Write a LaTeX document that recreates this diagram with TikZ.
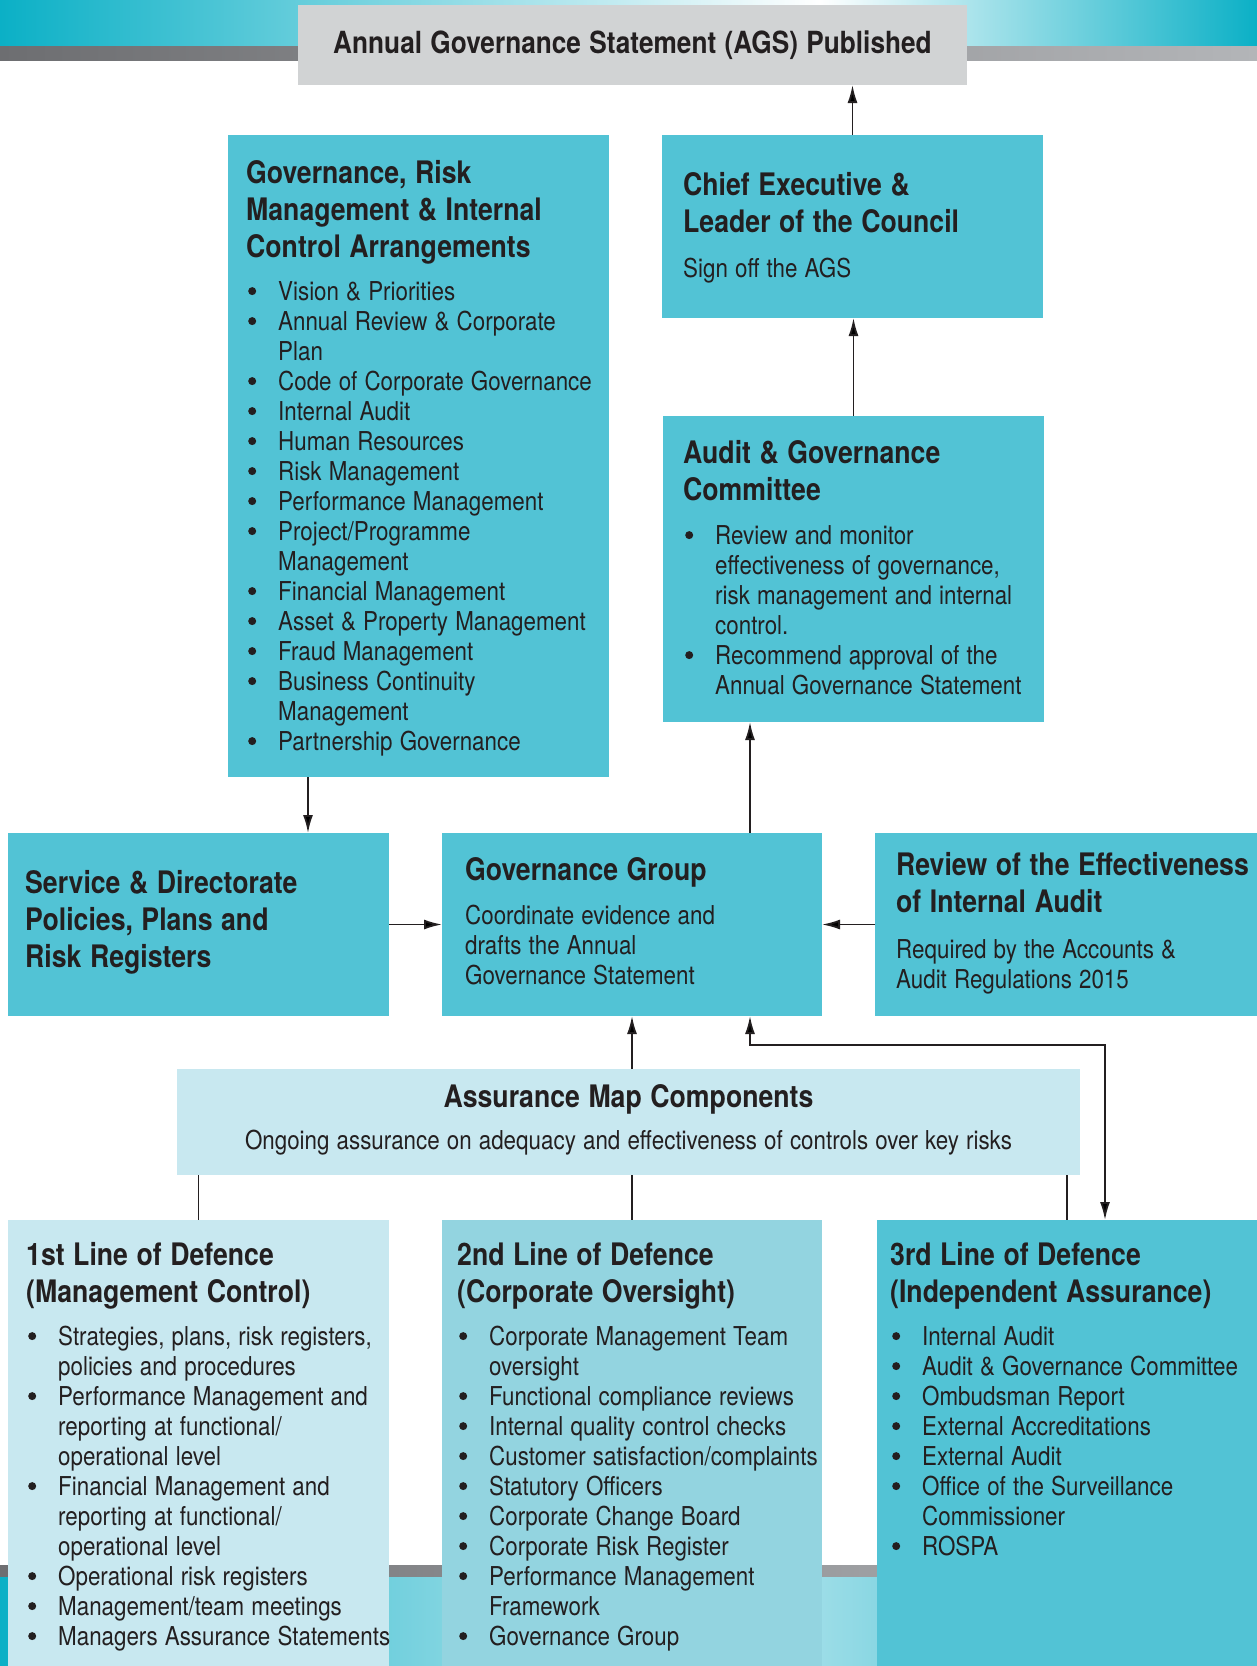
\documentclass[tikz,border=0pt]{standalone}
\usepackage{fontspec}
\setmainfont{TeX Gyre Heros}[FakeStretch=0.86, WordSpace=1.15]
\usetikzlibrary{arrows.meta, positioning}
\setlength{\parindent}{0pt}
\definecolor{boxteal}{HTML}{52C3D5}
\definecolor{palecyan}{HTML}{C8E8F0}
\definecolor{midcyan}{HTML}{93D4E0}
\definecolor{agsgrey}{HTML}{D1D3D4}
\definecolor{ink}{HTML}{231F20}
\definecolor{bandteal}{HTML}{0BB0C6}
\definecolor{bandlight}{HTML}{C4E9F0}
\definecolor{bandgreydk}{HTML}{6D6E71}
\definecolor{bandgreylt}{HTML}{B3B5B8}
\newcommand{\hfnt}{\fontsize{31}{37}\selectfont\bfseries\spaceskip=0pt\xspaceskip=0pt}
\newcommand{\bfnt}{\fontsize{26}{30}\selectfont\spaceskip=0pt\xspaceskip=0pt}
\newcommand{\dotmark}{\tikz[baseline={(0pt,-9pt)}]\fill[ink] (0pt,0pt) circle[radius=4pt];}
\newcommand{\itm}{\par\hangindent=32pt\hangafter=1\makebox[32pt][l]{\hspace{2pt}\dotmark}}
\tikzset{
	panel/.style={
		anchor=north west,
		inner sep=0pt,
		outer sep=0pt,
		fill=boxteal
	},
	blurb/.style={
		anchor=north west,
		inner sep=0pt,
		text width=480pt,
		text=ink
	},
	link/.style={
		draw=ink,
		line width=1.8pt,
		-{Latex[length=18pt,width=10pt]}
	},
	twoway/.style={
		link,
		{Latex[length=18pt,width=10pt]}-{Latex[length=18pt,width=10pt]}
	},
	tie/.style={
		draw=ink,
		line width=1.8pt
	}
}
\begin{document}
\begin{tikzpicture}[x=1pt, y=-1pt]
\useasboundingbox (0,0) rectangle (1257,1666);

% bands
\shade[left color=bandteal, right color=white] (0,0) rectangle (820,46);
\shade[left color=white, right color=bandteal] (820,0) rectangle (1257,46);
\shade[left color=bandgreydk, right color=bandgreylt] (0,46) rectangle (1257,60);
\shade[left color=bandgreydk, right color=bandgreylt] (0,1565) rectangle (1257,1577);
\shade[left color=bandteal, right color=bandlight] (0,1577) rectangle (700,1666);
\shade[left color=bandlight, right color=bandteal] (700,1577) rectangle (1257,1666);

\node(ags)[panel, anchor=center, fill=agsgrey, minimum width=669pt, minimum height=80pt, text=ink, font=\fontsize{30.5}{36}\selectfont\bfseries] at (632.5,45) {\raisebox{-3pt}{Annual Governance Statement (AGS) Published}};

\node(grc)[panel, minimum width=381pt, minimum height=642pt] at (228,135) {};
\node(chief)[panel, minimum width=381pt, minimum height=183pt] at (662,135) {};
\node(agc)[panel, minimum width=381pt, minimum height=306pt] at (663,416) {};
\node(svc)[panel, minimum width=381pt, minimum height=183pt] at (8,833) {};
\node(gg)[panel, minimum width=380pt, minimum height=183pt] at (442,833) {};
\node(rev)[panel, minimum width=382pt, minimum height=183pt] at (875,833) {};
\node(asm)[panel, fill=palecyan, minimum width=903pt, minimum height=106pt] at (177,1069) {};
\node(l1)[panel, fill=palecyan, minimum width=381pt, minimum height=446pt] at (8,1220) {};
\node(l2)[panel, fill=midcyan, minimum width=380pt, minimum height=446pt] at (442,1220) {};
\node(l3)[panel, minimum width=380pt, minimum height=446pt] at (877,1220) {};

\node(grc-t)[blurb] at (246,157) {{\hfnt\strut Governance, Risk\newline Management \& Internal\newline Control Arrangements\par}
	\vspace{13pt}\bfnt
	\itm Vision \& Priorities
	\itm Annual Review \& Corporate\newline Plan
	\itm Code of Corporate Governance
	\itm Internal Audit
	\itm Human Resources
	\itm Risk Management
	\itm Performance Management
	\itm Project/Programme\newline Management
	\itm Financial Management
	\itm Asset \& Property Management
	\itm Fraud Management
	\itm Business Continuity\newline Management
	\itm Partnership Governance\par};

\node(chief-t)[blurb] at (683,169) {{\hfnt\strut Chief Executive \&\newline Leader of the Council\par}
	\vspace{15pt}\bfnt Sign off the AGS\par};

\node(agc-t)[blurb] at (683,437) {{\hfnt\strut Audit \& Governance\newline Committee\par}
	\vspace{14pt}\bfnt
	\itm Review and monitor\newline effectiveness of governance,\newline risk management and internal\newline control.
	\itm Recommend approval of the\newline Annual Governance Statement\par};

\node(svc-t)[blurb] at (25,867) {{\hfnt\strut Service \& Directorate\newline Policies, Plans and\newline Risk Registers\par}};

\node(gg-t)[blurb] at (465,854) {{\hfnt\strut Governance Group\par}
	\vspace{13pt}\bfnt Coordinate evidence and\newline drafts the Annual\newline Governance Statement\par};

\node(rev-t)[blurb] at (896,849) {{\hfnt\strut Review of the Effectiveness\newline of Internal Audit\par}
	\vspace{16pt}\bfnt Required by the Accounts \&\newline Audit Regulations 2015\par};

\node(asm-t)[blurb, anchor=north, text width=900pt] at (628.5,1081) {\centering{\hfnt\strut Assurance Map Components\par}
	\vspace{11pt}\bfnt Ongoing assurance on adequacy and effectiveness of controls over key risks\par};

\node(l1-t)[blurb] at (26,1239) {{\hfnt\strut 1st Line of Defence\newline (Management Control)\par}
	\vspace{13pt}\bfnt
	\itm Strategies, plans, risk registers,\newline policies and procedures
	\itm Performance Management and\newline reporting at functional/\newline operational level
	\itm Financial Management and\newline reporting at functional/\newline operational level
	\itm Operational risk registers
	\itm Management/team meetings
	\itm Managers Assurance Statements\par};

\node(l2-t)[blurb] at (457,1239) {{\hfnt\strut 2nd Line of Defence\newline (Corporate Oversight)\par}
	\vspace{13pt}\bfnt
	\itm Corporate Management Team\newline oversight
	\itm Functional compliance reviews
	\itm Internal quality control checks
	\itm Customer satisfaction/complaints
	\itm Statutory Officers
	\itm Corporate Change Board
	\itm Corporate Risk Register
	\itm Performance Management\newline Framework
	\itm Governance Group\par};

\node(l3-t)[blurb] at (890,1239) {{\hfnt\strut 3rd Line of Defence\newline (Independent Assurance)\par}
	\vspace{13pt}\bfnt
	\itm Internal Audit
	\itm Audit \& Governance Committee
	\itm Ombudsman Report
	\itm External Accreditations
	\itm External Audit
	\itm Office of the Surveillance\newline Commissioner
	\itm ROSPA\par};

\coordinate(upcol) at (750,0);
\coordinate(svccol) at (308,0);
\coordinate(bend) at (1105,1045);

\draw[link] (chief.north) -- (chief.north |- ags.south);
\draw[link] (agc.north) -- (agc.north |- chief.south);
\draw[link] (upcol |- gg.north) -- (upcol |- agc.south);
\draw[link] (svccol |- grc.south) -- (svccol |- svc.north);
\draw[link] (svc.east) -- (gg.west);
\draw[link] (rev.west) -- (gg.east);
\draw[link] (asm.north -| gg.south) -- (gg.south);
\draw[twoway] (upcol |- gg.south) |- (bend) -- (bend |- l3.north);

\draw[tie] (asm.south -| l1.north) -- (l1.north);
\draw[tie] (asm.south -| l2.north) -- (l2.north);
\draw[tie] (asm.south -| l3.north) -- (l3.north);

\end{tikzpicture}
\end{document}
